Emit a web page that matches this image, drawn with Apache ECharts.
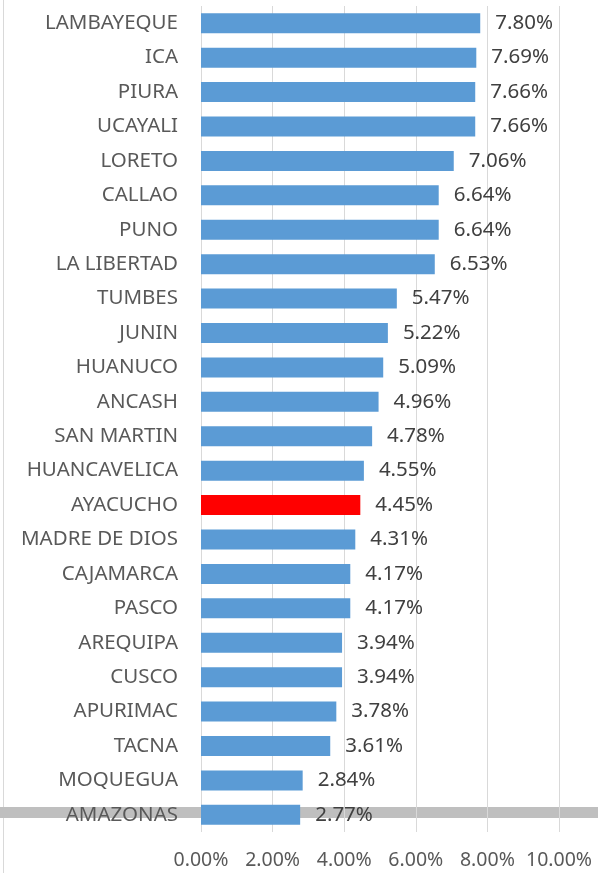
<!DOCTYPE html>
<html>
<head>
<meta charset="utf-8">
<script src="https://cdn.jsdelivr.net/npm/echarts@6/dist/echarts.min.js"></script>
<style>
  html, body { margin: 0; padding: 0; background: #fff; }
  #chart { width: 598px; height: 873px; }
</style>
</head>
<body>
<div id="chart"></div>
<script>
  var regions = ['LAMBAYEQUE', 'ICA', 'PIURA', 'UCAYALI', 'LORETO', 'CALLAO', 'PUNO', 'LA LIBERTAD',
    'TUMBES', 'JUNIN', 'HUANUCO', 'ANCASH', 'SAN MARTIN', 'HUANCAVELICA', 'AYACUCHO', 'MADRE DE DIOS',
    'CAJAMARCA', 'PASCO', 'AREQUIPA', 'CUSCO', 'APURIMAC', 'TACNA', 'MOQUEGUA', 'AMAZONAS']
  var rates = [7.80, 7.69, 7.66, 7.66, 7.06, 6.64, 6.64, 6.53, 5.47, 5.22, 5.09, 4.96, 4.78, 4.55,
    4.45, 4.31, 4.17, 4.17, 3.94, 3.94, 3.78, 3.61, 2.84, 2.77]
  var highlight = 'AYACUCHO'

  var chart = echarts.init(document.getElementById('chart'))
  var font = 'Noto Sans'

  chart.setOption({
    animation: false,
    grid: { left: 201, right: 39, top: 6, bottom: 41 },
    graphic: [
      // thin frame line at the left edge
      { type: 'rect', z: 0, shape: { x: 3, y: 0, width: 1, height: 873 }, style: { fill: '#d9d9d9' } },
      // grey band behind the last row
      { type: 'rect', z: 0, shape: { x: 0, y: 807, width: 598, height: 11 }, style: { fill: '#bfbfbf' } }
    ],
    xAxis: {
      type: 'value',
      min: 0,
      max: 10,
      interval: 2,
      axisLine: { show: false },
      axisTick: { show: false },
      splitLine: { lineStyle: { color: '#d9d9d9', width: 1 } },
      axisLabel: {
        margin: 18,
        color: '#595959',
        fontFamily: font,
        fontSize: 19.5,
        formatter: function (v) { return v.toFixed(2) + '%' }
      }
    },
    yAxis: {
      type: 'category',
      inverse: true,
      data: regions,
      axisLine: { show: false },
      axisTick: { show: false },
      axisLabel: { margin: 23, color: '#595959', fontFamily: font, fontSize: 20.5 }
    },
    series: [
      {
        type: 'bar',
        barWidth: 20,
        z: 3,
        data: rates.map(function (v, i) {
          return {
            value: v,
            itemStyle: { color: regions[i] === highlight ? '#ff0000' : '#5b9bd5' }
          }
        }),
        label: {
          show: true,
          position: 'right',
          distance: 15,
          color: '#404040',
          fontFamily: font,
          fontSize: 20.5,
          formatter: function (p) { return p.value.toFixed(2) + '%' }
        }
      }
    ]
  })
</script>
</body>
</html>
